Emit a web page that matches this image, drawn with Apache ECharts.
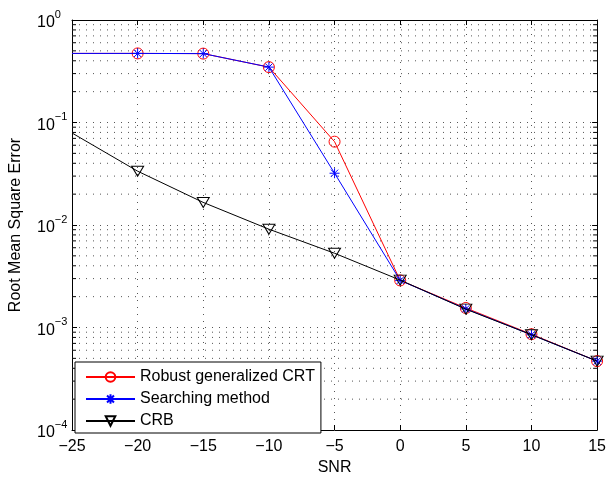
<html>
<head>
<meta charset="utf-8">
<title>RMSE vs SNR</title>
<script src="https://cdn.jsdelivr.net/npm/echarts@6/dist/echarts.min.js"></script>
<style>
  body{margin:0;background:#fff;}
</style>
</head>
<body>
<div id="main" style="width:609px;height:481px;"></div>
<script>
// 数据
var snr = [-25, -20, -15, -10, -5, 0, 5, 10, 15];
var robustCRT = [0.472, 0.472, 0.47, 0.347, 0.065, 0.00288, 0.00155, 0.00086, 0.00047];
var searching = [0.472, 0.472, 0.47, 0.347, 0.032, 0.00288, 0.00152, 0.00085, 0.00047];
var crb = [0.079, 0.0335, 0.0166, 0.0091, 0.0053, 0.00290, 0.00151, 0.00085, 0.00047];
var xTicks = [-25, -20, -15, -10, -5, 0, 5, 10, 15];
var yMinor = [];
for (var k = -4; k < 0; k++) {
  for (var m = 2; m <= 9; m++) yMinor.push(m * Math.pow(10, k));
}

var font = 'Liberation Sans, Arial, Helvetica, sans-serif';
var dotted = {color: '#555', width: 1, type: [1, 6]};

function pts(arr) {
  var out = [];
  for (var i = 0; i < snr.length; i++) {
    var p = {value: [snr[i], arr[i]]};
    if (snr[i] == -25) p.symbol = 'none'; // 左边界不画标记
    out.push(p);
  }
  return out;
}

var star = 'path://M0,-5L0,5M-5,0L5,0M-3.6,-3.6L3.6,3.6M-3.6,3.6L3.6,-3.6';
var axisBlack = {onZero: false, show: true, lineStyle: {color: '#000'}};

var myChart = echarts.init(document.getElementById('main'));
var option = {
  animation: false,
  grid: {left: 67, right: 5, top: 20, bottom: 44},
  legend: {
    left: 75, top: 362, orient: 'vertical',
    data: ['Robust generalized CRT', 'Searching method', 'CRB'],
    backgroundColor: '#fff', borderColor: '#000', borderWidth: 1,
    padding: [7, 6, 4, 10], itemWidth: 49, itemHeight: 12, itemGap: 6,
    textStyle: {fontFamily: font, fontSize: 16, color: '#000'}
  },
  xAxis: [{
    type: 'value', min: -25, max: 15, interval: 5,
    name: 'SNR', nameLocation: 'middle', nameGap: 30,
    nameTextStyle: {fontFamily: font, fontSize: 16, color: '#000'},
    axisLine: axisBlack,
    axisTick: {inside: true, length: 5, lineStyle: {color: '#000'}},
    axisLabel: {fontFamily: font, fontSize: 16, color: '#000', margin: 9,
      formatter: function (v) { return String(v).replace('-', '\u2212'); }},
    splitLine: {show: true, lineStyle: dotted}
  }, {
    type: 'value', min: -25, max: 15, interval: 5, position: 'top',
    axisLine: axisBlack,
    axisTick: {inside: true, length: 5, lineStyle: {color: '#000'}},
    axisLabel: {show: false}, splitLine: {show: false}
  }],
  yAxis: [{
    type: 'log', logBase: 10, min: 1e-4, max: 1,
    name: 'Root Mean Square Error', nameLocation: 'middle', nameGap: 48,
    nameTextStyle: {fontFamily: font, fontSize: 16, color: '#000'},
    axisLine: axisBlack,
    axisTick: {inside: true, length: 5, lineStyle: {color: '#000'}},
    axisLabel: {
      align: 'left', margin: 35, color: '#000',
      formatter: function (v) {
        var e = Math.round(Math.log(v) / Math.LN10);
        return '{b|10}{s|' + String(e).replace('-', '\u2212') + '}';
      },
      rich: {
        b: {fontFamily: font, fontSize: 16, color: '#000', lineHeight: 16, padding: [6, 0, 0, 0]},
        s: {fontFamily: font, fontSize: 11, color: '#000', padding: [0, 0, 11, 0]}
      }
    },
    splitLine: {show: true, lineStyle: dotted}
  }, {
    type: 'log', logBase: 10, min: 1e-4, max: 1, position: 'right',
    axisLine: axisBlack,
    axisTick: {inside: true, length: 5, lineStyle: {color: '#000'}},
    axisLabel: {show: false}, splitLine: {show: false}
  }],
  series: [{
    // 对数轴次刻度和次网格
    type: 'custom', name: 'minor', silent: true, z: 1,
    data: yMinor.map(function (v) { return [-25, v]; }),
    renderItem: function (params, api) {
      var v = api.value(1);
      var a = api.coord([-25, v]);
      var b = api.coord([15, v]);
      var st = {stroke: '#000', lineWidth: 1};
      return {type: 'group', children: [
        {type: 'line', shape: {x1: a[0], y1: a[1], x2: b[0], y2: b[1]},
          style: {stroke: '#555', lineWidth: 1, lineDash: [1, 6]}},
        {type: 'line', shape: {x1: a[0], y1: a[1], x2: a[0] + 4, y2: a[1]}, style: st},
        {type: 'line', shape: {x1: b[0] - 4, y1: b[1], x2: b[0], y2: b[1]}, style: st}
      ]};
    }
  }, {
    name: 'Robust generalized CRT', type: 'line', data: pts(robustCRT), z: 3,
    symbol: 'circle', symbolSize: 11, color: '#ff0000',
    lineStyle: {color: '#ff0000', width: 1},
    itemStyle: {color: 'rgba(255,255,255,0)', borderColor: '#ff0000', borderWidth: 1}
  }, {
    name: 'Searching method', type: 'line', data: pts(searching), z: 4,
    symbol: star, symbolSize: 10, color: '#0000ff',
    lineStyle: {color: '#0000ff', width: 1},
    itemStyle: {color: '#0000ff', borderColor: '#0000ff', borderWidth: 1}
  }, {
    name: 'CRB', type: 'line', data: pts(crb), z: 5,
    symbol: 'triangle', symbolRotate: 180, symbolSize: [12, 10], color: '#000',
    lineStyle: {color: '#000', width: 1},
    itemStyle: {color: 'rgba(255,255,255,0)', borderColor: '#000', borderWidth: 1}
  }]
};
myChart.setOption(option);
</script>
</body>
</html>
